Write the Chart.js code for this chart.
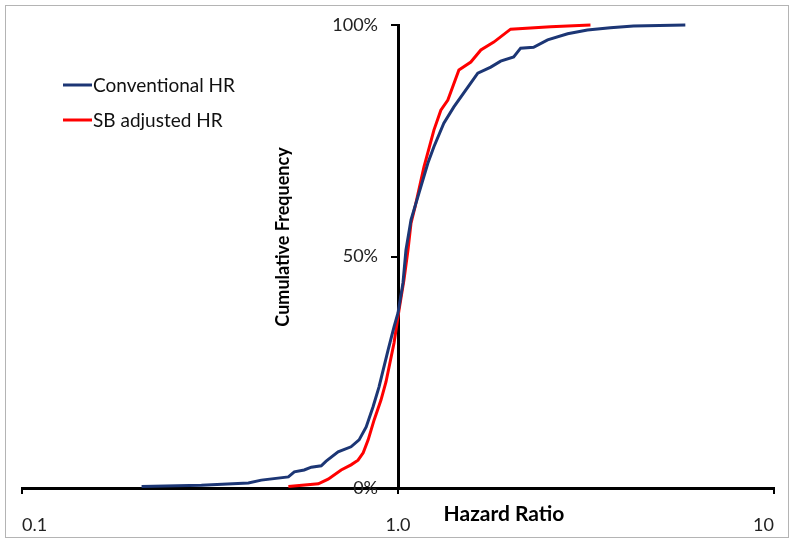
<!DOCTYPE html>
<html lang="en">
<head>
  <meta charset="UTF-8">
  <title>Cumulative Frequency of Hazard Ratio</title>
  <style>
    body {
      margin: 0;
      padding: 0;
      background: #ffffff;
    }

    .wrap {
      position: relative;
      width: 800px;
      height: 543px;
    }

    .frame {
      position: absolute;
      left: 5px;
      top: 5px;
      width: 782px;
      height: 531px;
      border: 1px solid #b4b4b4;
      pointer-events: none;
    }
  </style>
</head>
<body>
<div class="wrap">
  <canvas id="hrChart" width="800" height="543"></canvas>
  <div class="frame"></div>
</div>

<script src="https://cdn.jsdelivr.net/npm/chart.js"></script>
<script>
  // values
  const convHR = [0.208, 0.30, 0.40, 0.433, 0.511, 0.53, 0.563, 0.588, 0.625, 0.644, 0.693, 0.75, 0.788,
    0.823, 0.858, 0.89, 0.941, 0.976, 1.0, 1.031, 1.05, 1.083, 1.137, 1.201, 1.246, 1.324, 1.408,
    1.534, 1.63, 1.765, 1.875, 2.031, 2.119, 2.294, 2.5, 2.826, 3.19, 3.67, 4.23, 5.81];
  const convFreq = [0.3, 0.6, 1.1, 1.7, 2.4, 3.5, 3.9, 4.5, 4.8, 5.8, 7.8, 8.9, 10.4,
    13.2, 17.5, 21.8, 29.8, 34.8, 37.8, 44.3, 51.4, 57.9, 63.7, 70.2, 73.7, 78.8, 82.3,
    86.6, 89.6, 90.9, 92.2, 93.1, 95.0, 95.2, 96.8, 98.1, 98.9, 99.4, 99.8, 100];

  const sbHR = [0.511, 0.614, 0.652, 0.706, 0.75, 0.783, 0.808, 0.833, 0.864, 0.901, 0.929, 0.976,
    1.006, 1.037, 1.063, 1.083, 1.11, 1.172, 1.246, 1.3, 1.357, 1.452, 1.562, 1.661, 1.798,
    1.993, 2.546, 3.25];
  const sbFreq = [0.3, 0.9, 1.9, 3.9, 5.0, 6.0, 7.6, 10.4, 14.7, 19.0, 22.9, 31.3,
    38.4, 44.9, 51.4, 57.2, 60.7, 69.3, 77.3, 81.6, 83.8, 90.3, 92.0, 94.6, 96.3,
    99.1, 99.6, 100];

  const xTickValues = [0.1, 1, 10];
  const xTickLabels = ['0.1', '1.0', '10'];
  const yTickLabels = ['0%', '50%', '100%'];

  const FONT = 'Lato, "Open Sans", sans-serif';

  function toPoints(xs, ys) {
    return xs.map((x, i) => ({ x: x, y: ys[i] }));
  }

  // axis titles and the legend sit at fixed spots inside the plot, like the original
  const extrasPlugin = {
    id: 'extras',
    afterDraw(chart) {
      const ctx = chart.ctx;
      ctx.save();
      ctx.fillStyle = '#000';
      ctx.textAlign = 'center';
      ctx.textBaseline = 'middle';
      ctx.font = 'bold 21px ' + FONT;
      ctx.fillText('Hazard Ratio', 504, 514);

      ctx.font = 'bold 18px ' + FONT;
      ctx.translate(283, 237);
      ctx.rotate(-Math.PI / 2);
      ctx.fillText('Cumulative Frequency', 0, 0);
      ctx.restore();

      ctx.save();
      ctx.font = '19px ' + FONT;
      ctx.textAlign = 'left';
      ctx.textBaseline = 'middle';
      chart.data.datasets.forEach((ds, i) => {
        const y = 85 + i * 35;
        ctx.strokeStyle = ds.borderColor;
        ctx.lineWidth = 3;
        ctx.beginPath();
        ctx.moveTo(63, y);
        ctx.lineTo(92, y);
        ctx.stroke();
        ctx.fillStyle = '#111';
        ctx.fillText(ds.label, 93, y + 1);
      });
      ctx.restore();
    }
  };

  const yTickOpts = {
    stepSize: 50,
    color: '#222',
    font: { family: FONT, size: 18 },
    callback: function(value) {
      return yTickLabels[value / 50];
    }
  };

  const ctx = document.getElementById('hrChart').getContext('2d');
  new Chart(ctx, {
    type: 'line',
    data: {
      datasets: [
        {
          label: 'Conventional HR',
          data: toPoints(convHR, convFreq),
          borderColor: '#1c3675',
          borderWidth: 3,
          pointRadius: 0,
          tension: 0,
          clip: 6
        },
        {
          label: 'SB adjusted HR',
          data: toPoints(sbHR, sbFreq),
          borderColor: '#ff0000',
          borderWidth: 3,
          pointRadius: 0,
          tension: 0,
          clip: 6
        }
      ]
    },
    options: {
      responsive: false,
      animation: false,
      layout: {
        padding: { left: 20, right: 26, top: 25, bottom: 55 }
      },
      plugins: {
        legend: { display: false },
        tooltip: { enabled: false }
      },
      scales: {
        x: {
          type: 'logarithmic',
          min: 0.1,
          max: 10,
          position: { y: 0 },
          afterBuildTicks: function(scale) {
            scale.ticks = xTickValues.map(v => ({ value: v }));
          },
          ticks: {
            autoSkip: false,
            maxRotation: 0,
            align: 'inner',
            padding: 22,
            color: '#222',
            font: { family: FONT, size: 18 },
            callback: function(value, index) {
              return xTickLabels[index];
            }
          },
          grid: {
            display: true,
            drawOnChartArea: false,
            drawTicks: true,
            tickLength: 4,
            color: '#000',
            lineWidth: 2
          },
          border: { display: true, color: '#000', width: 3 }
        },
        // the axis line crossing at HR = 1.0
        y: {
          type: 'linear',
          min: 0,
          max: 100,
          position: { x: 1 },
          ticks: Object.assign({}, yTickOpts, { display: false }),
          grid: {
            display: true,
            drawOnChartArea: false,
            drawTicks: true,
            tickLength: 6,
            color: '#000',
            lineWidth: 2
          },
          border: { display: true, color: '#000', width: 3 }
        },
        // percent labels, set a little to the left of that line
        yLabels: {
          type: 'linear',
          axis: 'y',
          min: 0,
          max: 100,
          position: { x: 0.885 },
          ticks: yTickOpts,
          grid: { display: false },
          border: { display: false }
        }
      }
    },
    plugins: [extrasPlugin]
  });
</script>
</body>
</html>
